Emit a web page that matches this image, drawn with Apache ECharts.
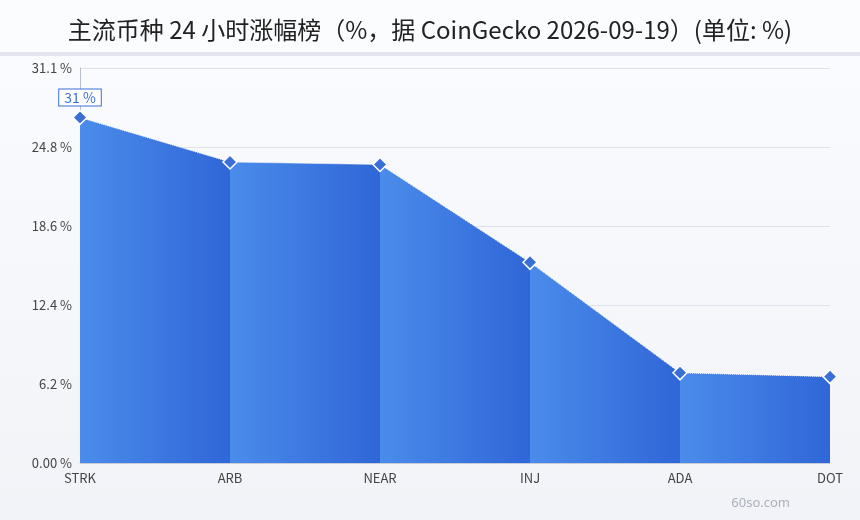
<!DOCTYPE html>
<html>
<head>
<meta charset="UTF-8">
<script src="https://cdn.jsdelivr.net/npm/echarts@6/dist/echarts.min.js"></script>
<style>
  body { margin: 0; background: #f3f5fa; }
  #main { width: 860px; height: 520px; }
</style>
</head>
<body>
<div id="main"></div>
<script>
var titleText = '主流币种 24 小时涨幅榜（%，据 CoinGecko 2026-09-19）(单位: %)';
var categories = ['STRK', 'ARB', 'NEAR', 'INJ', 'ADA', 'DOT'];
var values = [27.2, 23.7, 23.5, 15.8, 7.1, 6.8];
var peakLabel = '31 %';

// repeating gradient per category step (150px wide, grid starts at x=80)
var step = 150, startX = 80;
var cv = document.createElement('canvas');
cv.width = step; cv.height = 4;
var ctx = cv.getContext('2d');
for (var px = 0; px < step; px++) {
    var t = ((px - startX) % step + step) % step / step;
    var r = Math.round(0x4a + (0x30 - 0x4a) * t);
    var g = Math.round(0x8c + (0x66 - 0x8c) * t);
    var b = Math.round(0xea + (0xd8 - 0xea) * t);
    ctx.fillStyle = 'rgb(' + r + ',' + g + ',' + b + ')';
    ctx.fillRect(px, 0, 1, 4);
}

var myChart = echarts.init(document.getElementById('main'));
var option = {
    backgroundColor: new echarts.graphic.LinearGradient(0, 0, 0, 1, [
        { offset: 0, color: '#fbfcff' }, { offset: 1, color: '#f1f3f8' }
    ]),
    graphic: [
        { type: 'rect', shape: { x: 0, y: 0, width: 860, height: 52 }, style: { fill: '#fbfcfe' } },
        { type: 'rect', shape: { x: 0, y: 52, width: 860, height: 4 }, style: { fill: '#e3e5ee' } },
        { type: 'text', right: 70, bottom: 10, style: { text: '60so.com', fill: '#aab0bc', font: '13px "Noto Sans"' } }
    ],
    title: {
        text: titleText, left: 'center', top: 13,
        textStyle: { fontFamily: 'Noto Sans CJK SC', fontSize: 24, fontWeight: 'normal', color: '#222' }
    },
    grid: { left: 80, right: 30, top: 68, bottom: 57 },
    xAxis: {
        type: 'category', boundaryGap: false, data: categories,
        axisLine: { lineStyle: { color: '#c8ccd6' } },
        axisTick: { show: false },
        axisLabel: { color: '#444', fontSize: 13, fontFamily: 'Noto Sans CJK SC', margin: 9 }
    },
    yAxis: {
        type: 'value', min: 0, max: 31.1, interval: 6.22,
        axisLine: { show: true, lineStyle: { color: '#b8bfcc' } },
        axisTick: { show: false },
        splitLine: { lineStyle: { color: '#dfe2ea' } },
        axisLabel: {
            color: '#444', fontSize: 13, fontFamily: 'Noto Sans CJK SC',
            formatter: function (v) {
                return (v === 0 ? '0.00' : (Math.floor(v * 10 + 1e-6) / 10).toFixed(1)) + ' %';
            }
        }
    },
    series: [{
        type: 'line', data: values,
        symbol: 'diamond', symbolSize: 14,
        itemStyle: { color: '#3a6fd8', borderColor: '#fff', borderWidth: 1.5 },
        lineStyle: { width: 1, color: '#ffffff', type: 'dotted' },
        areaStyle: { color: { image: cv, repeat: 'repeat' }, opacity: 1 },
        markPoint: {
            symbol: 'rect', symbolSize: 0,
            data: [{ coord: [0, values[0]], value: peakLabel }],
            label: {
                show: true, formatter: peakLabel, offset: [0, -20],
                color: '#3a6fd8', fontSize: 14, fontFamily: 'Noto Sans CJK SC',
                backgroundColor: '#fff', borderColor: '#3a6fd8', borderWidth: 1,
                padding: [1, 5]
            }
        }
    }]
};
myChart.setOption(option);
</script>
</body>
</html>
